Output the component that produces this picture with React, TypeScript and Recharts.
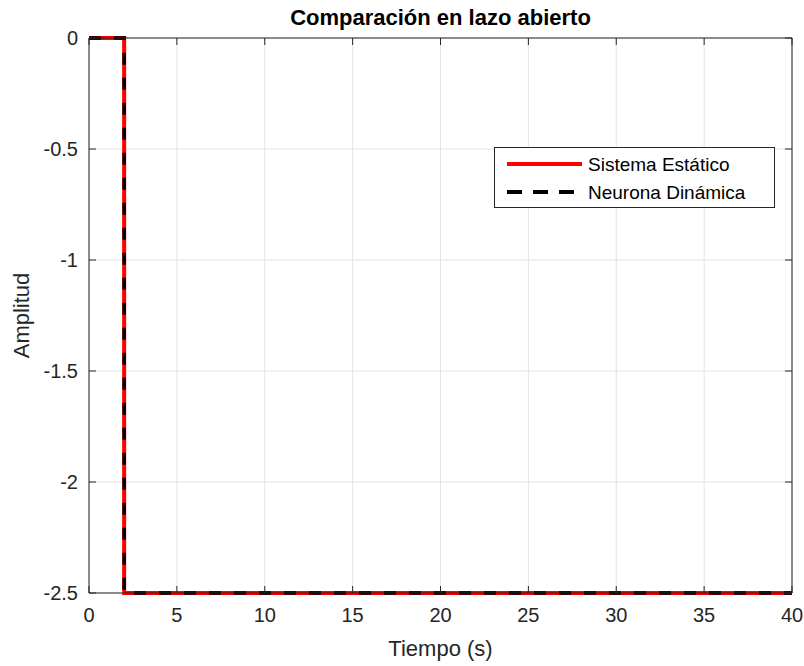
import { LineChart, Line, XAxis, YAxis, CartesianGrid, Label } from 'recharts'

// open-loop step: both models drop from 0 to -2.5 at t = 2 s
const tiempo = [0, 2, 2, 40]
const sistemaEstatico = [0, 0, -2.5, -2.5]
const neuronaDinamica = [0, 0, -2.5, -2.5]
const xTicks = [0, 5, 10, 15, 20, 25, 30, 35, 40]
const yTicks = [-2.5, -2, -1.5, -1, -0.5, 0]
const seriesNames = ['Sistema Estático', 'Neurona Dinámica']

const data = tiempo.map((t, i) => ({
  t,
  estatico: sistemaEstatico[i],
  neurona: neuronaDinamica[i],
}))

const INK = '#262626'
const FONT = '"Liberation Sans", Arial, Helvetica, sans-serif'

const BottomTick = ({ x, y, payload }: any) => (
  <g>
    <line x1={x} y1={y} x2={x} y2={y - 7} stroke={INK} />
    <text x={x} y={y + 29} textAnchor="middle" fill={INK} fontSize={20}>
      {payload.value}
    </text>
  </g>
)

const TopTick = ({ x, y }: any) => <line x1={x} y1={y} x2={x} y2={y + 7} stroke={INK} />

const LeftTick = ({ x, y, payload }: any) => (
  <g>
    <line x1={x} y1={y} x2={x + 7} y2={y} stroke={INK} />
    <text x={x - 11} y={y} dy="0.36em" textAnchor="end" fill={INK} fontSize={20}>
      {payload.value}
    </text>
  </g>
)

const RightTick = ({ x, y }: any) => <line x1={x} y1={y} x2={x - 7} y2={y} stroke={INK} />

function LegendBox() {
  return (
    <div
      style={{
        position: 'absolute',
        left: 494,
        top: 147,
        width: 281,
        height: 61,
        background: '#fff',
      }}
    >
      <svg width={281} height={61} style={{ fontFamily: FONT }}>
        <rect x={0.5} y={0.5} width={280} height={60} fill="#fff" stroke={INK} />
        <line x1={13} y1={17} x2={88} y2={17} stroke="#ff0000" strokeWidth={4} />
        <text x={94} y={24} fontSize={19} fill="#000">
          {seriesNames[0]}
        </text>
        <line x1={13} y1={45} x2={80} y2={45} stroke="#000" strokeWidth={4} strokeDasharray="15 11" />
        <text x={94} y={52} fontSize={19} fill="#000">
          {seriesNames[1]}
        </text>
      </svg>
    </div>
  )
}

export default function App() {
  return (
    <div style={{ position: 'absolute', left: 0, top: 0, width: 804, height: 666, background: '#fff' }}>
      <LineChart
        width={804}
        height={666}
        data={data}
        margin={{ top: 37, right: 11, bottom: 0, left: 0 }}
        style={{ fontFamily: FONT }}
      >
        <CartesianGrid stroke="#e3e3e3" strokeWidth={1} />
        <XAxis
          dataKey="t"
          type="number"
          domain={[0, 40]}
          ticks={xTicks}
          interval={0}
          height={73}
          tickSize={0}
          tickMargin={0}
          tickLine={false}
          tick={<BottomTick />}
          axisLine={{ stroke: INK }}
        >
          <Label value="Tiempo (s)" position="insideBottom" offset={10} fontSize={22} fill={INK} />
        </XAxis>
        <XAxis
          xAxisId="top"
          dataKey="t"
          orientation="top"
          type="number"
          domain={[0, 40]}
          ticks={xTicks}
          interval={0}
          height={1}
          tickSize={0}
          tickMargin={0}
          tickLine={false}
          tick={<TopTick />}
          axisLine={{ stroke: INK }}
        >
          <Label
            value="Comparación en lazo abierto"
            position="top"
            offset={12}
            fontSize={22}
            fontWeight="bold"
            fill="#000"
          />
        </XAxis>
        <YAxis
          type="number"
          domain={[-2.5, 0]}
          ticks={yTicks}
          interval={0}
          width={89}
          tickSize={0}
          tickMargin={0}
          tickLine={false}
          tick={<LeftTick />}
          axisLine={{ stroke: INK }}
        >
          <Label
            value="Amplitud"
            position="insideLeft"
            angle={-90}
            offset={21}
            fontSize={22}
            fill={INK}
            style={{ textAnchor: 'middle' }}
          />
        </YAxis>
        <YAxis
          yAxisId="right"
          orientation="right"
          type="number"
          domain={[-2.5, 0]}
          ticks={yTicks}
          interval={0}
          width={1}
          tickSize={0}
          tickMargin={0}
          tickLine={false}
          tick={<RightTick />}
          axisLine={{ stroke: INK }}
        />
        {/* invisible series so the top/right box axes get drawn */}
        <Line
          xAxisId="top"
          yAxisId="right"
          dataKey="neurona"
          stroke="none"
          dot={false}
          activeDot={false}
          legendType="none"
          isAnimationActive={false}
        />
        <Line
          type="linear"
          dataKey="estatico"
          name={seriesNames[0]}
          stroke="#ff0000"
          strokeWidth={4}
          dot={false}
          isAnimationActive={false}
        />
        <Line
          type="linear"
          dataKey="neurona"
          name={seriesNames[1]}
          stroke="#000"
          strokeWidth={3.5}
          strokeDasharray="12 13"
          dot={false}
          isAnimationActive={false}
        />
      </LineChart>
      <LegendBox />
    </div>
  )
}
